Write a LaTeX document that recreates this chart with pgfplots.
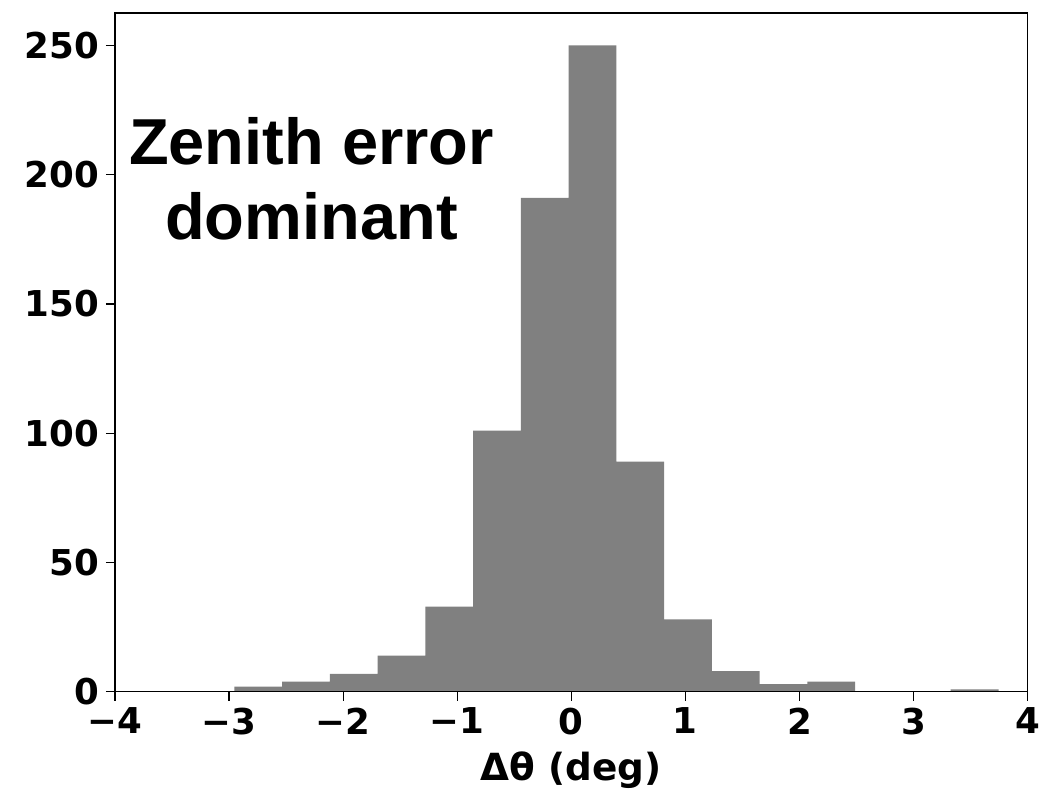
\documentclass[border=0pt]{standalone}
\usepackage{pgfplots}
\pgfplotsset{compat=1.18}
\usepackage{fontspec}
\setmainfont{DejaVu Sans}
\newfontfamily\annfont{Liberation Sans}
\definecolor{bargray}{RGB}{128,128,128}
\begin{document}
\begin{tikzpicture}
\useasboundingbox (-57.5pt,-49.5pt) rectangle (468.1pt,346pt);
\begin{axis}[
  scale only axis,
  width=456.4pt, height=339.5pt,
  xmin=-4, xmax=4, ymin=0, ymax=262.5,
  enlargelimits=false,
  axis on top,
  axis line style={line width=0.6pt},
  tick pos=left,
  tick align=outside,
  major tick length=4.5pt,
  tick style={line width=0.6pt, black},
  xtick={-4,-3,-2,-1,0,1,2,3,4},
  xticklabels={−4,−3,−2,−1,0,1,2,3,4},
  ytick={0,50,100,150,200,250},
  yticklabels={0,50,100,150,200,250},
  ticklabel style={font=\fontsize{17.8}{20}\selectfont\bfseries},
  xlabel={Δθ (deg)},
  xlabel style={font=\fontsize{18.7}{21}\selectfont\bfseries, at={(axis description cs:0.5,0)}, anchor=base, yshift=-44.3pt},
]
\addplot[ybar interval, fill=bargray, draw=none] coordinates {
(-2.954,2) (-2.535,4) (-2.117,7) (-1.698,14) (-1.279,33) (-0.861,101)
(-0.442,191) (-0.023,250) (0.396,89) (0.814,28) (1.233,8) (1.652,3)
(2.070,4) (2.489,0) (2.908,0) (3.326,1) (3.745,1)
};
\node[anchor=base, font=\annfont\fontsize{32.5}{36}\selectfont\bfseries] at (axis cs:-2.278,204) {Zenith error};
\node[anchor=base, font=\annfont\fontsize{32.5}{36}\selectfont\bfseries] at (axis cs:-2.278,175.1) {dominant};
\end{axis}
\end{tikzpicture}
\end{document}
